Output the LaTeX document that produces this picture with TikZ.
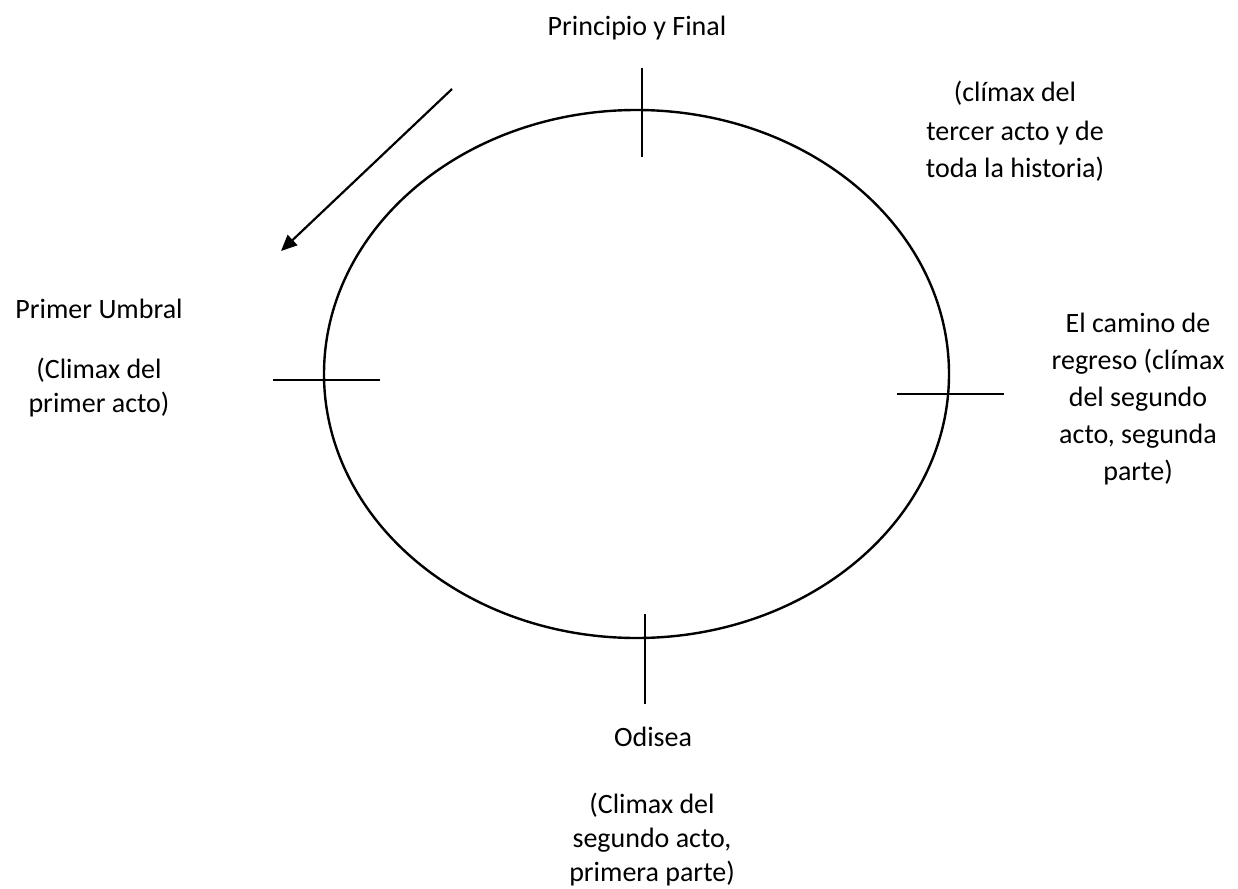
\documentclass[tikz,border=0pt]{standalone}
\usepackage{fontspec}
\setmainfont{Carlito}
\usetikzlibrary{arrows.meta}
\begin{document}
\begin{tikzpicture}[x=1pt,y=-1pt,
  lbl/.style={font=\fontsize{28pt}{34pt}\selectfont, anchor=base, inner sep=0pt},
  ring/.style={line width=2.4pt},
  tick/.style={line width=1.2pt},
  arr/.style={line width=2.2pt, -{Triangle[length=16pt,width=14pt]}}]
\fill[white] (0,0) rectangle (1238,888);
\useasboundingbox (0,0) rectangle (1238,888);
% circle of the journey
\draw[ring] (636.5,374) ellipse [x radius=312.5, y radius=264];
% ticks
\coordinate (tt1) at (642,68);  \coordinate (tt2) at (642,157);
\coordinate (tb1) at (645,614); \coordinate (tb2) at (645,704);
\coordinate (tl1) at (273,380); \coordinate (tl2) at (380,380);
\coordinate (tr1) at (897,394); \coordinate (tr2) at (1004,394);
\draw[tick] (tt1) -- (tt2);
\draw[tick] (tb1) -- (tb2);
\draw[tick] (tl1) -- (tl2);
\draw[tick] (tr1) -- (tr2);
% direction arrow
\coordinate (as) at (452,89);
\coordinate (ae) at (281,251);
\draw[arr] (as) -- (ae);
% labels
\node[lbl] (top) at (637,36) {Principio y Final};
\node[lbl] (tra) at (1015,102) {(clímax del};
\node[lbl] (trb) at (1015,140) {tercer acto y de};
\node[lbl] (trc) at (1015,177) {toda la historia)};
\node[lbl] (la) at (99,318) {Primer Umbral};
\node[lbl] (lb) at (99,378) {(Climax del};
\node[lbl] (lc) at (99,412) {primer acto)};
\node[lbl] (ra) at (1138,332) {El camino de};
\node[lbl] (rb) at (1138,369) {regreso (clímax};
\node[lbl] (rc) at (1138,406) {del segundo};
\node[lbl] (rd) at (1138,443) {acto, segunda};
\node[lbl] (re) at (1138,480) {parte)};
\node[lbl] (ba) at (653,746) {Odisea};
\node[lbl] (bb) at (652,813) {(Climax del};
\node[lbl] (bc) at (652,847) {segundo acto,};
\node[lbl] (bd) at (652,881) {primera parte)};
\end{tikzpicture}
\end{document}
